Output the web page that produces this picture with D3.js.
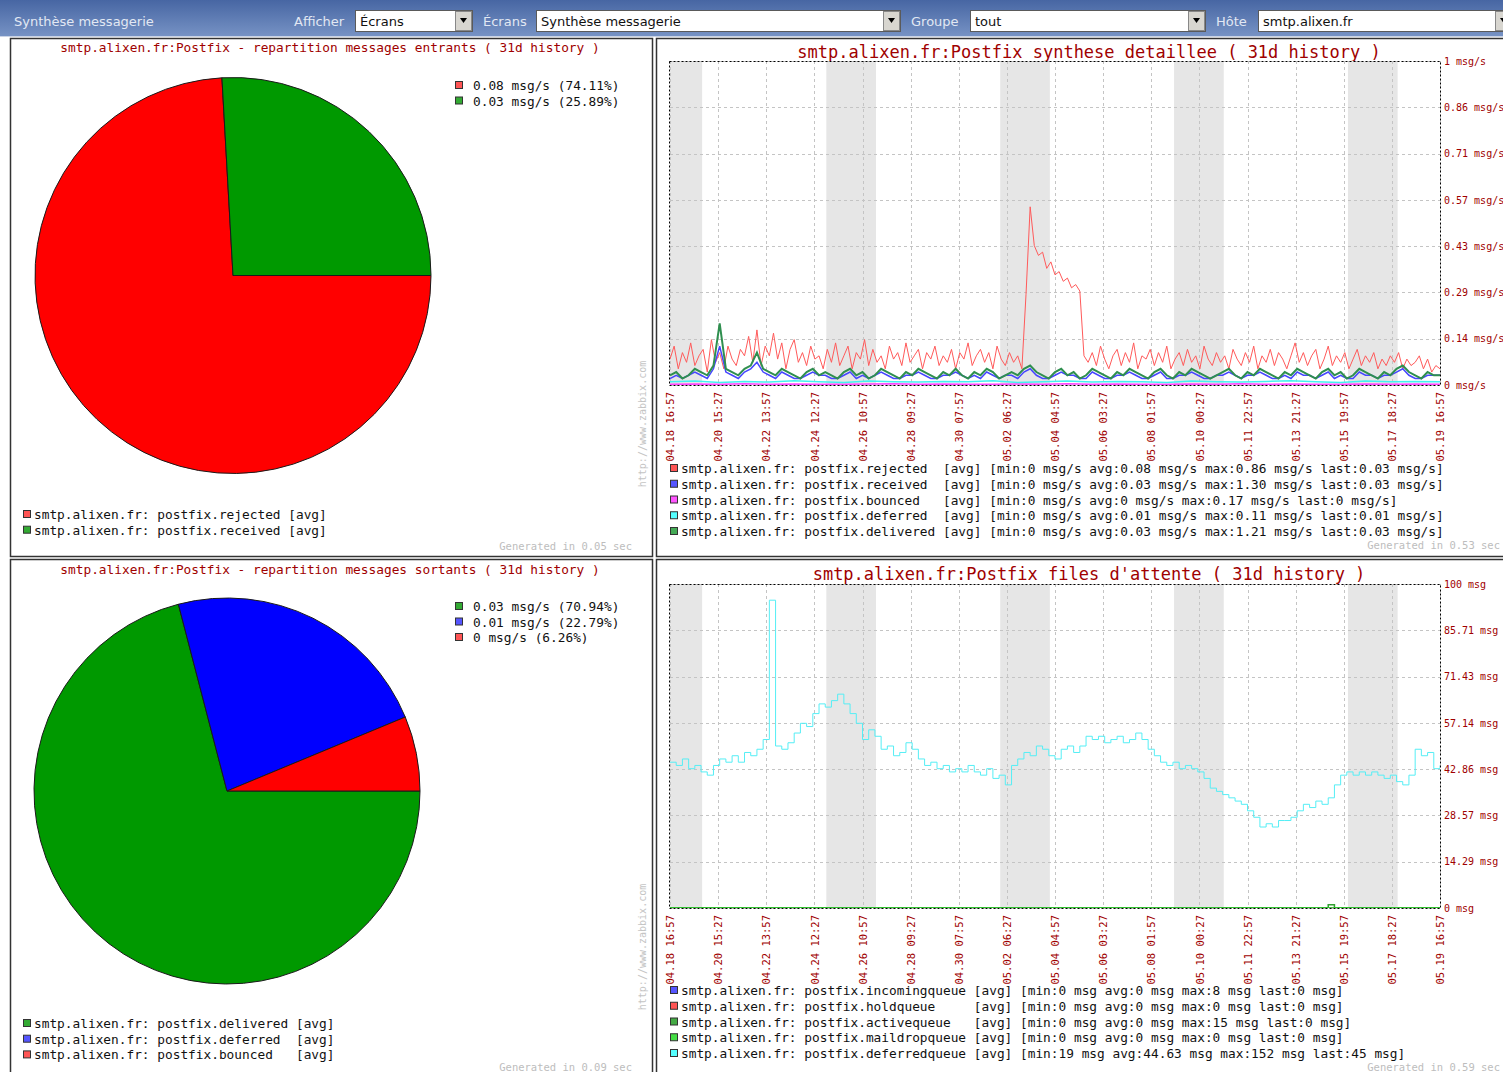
<!DOCTYPE html>
<html>
<head>
<meta charset="utf-8">
<script src="https://cdn.jsdelivr.net/npm/d3@7"></script>
<style>
body { margin: 0; background: #fff; }
svg { display: block; }
</style>
</head>
<body>
<svg id="page" width="1503" height="1072"></svg>
<script>
// ---- data ----
var host = 'smtp.alixen.fr';

// pies
var pieInNames = ['postfix.rejected', 'postfix.received'];
var pieInRates = ['0.08', '0.03'];
var pieInPercents = [74.11, 25.89];
var pieOutNames = ['postfix.delivered', 'postfix.deferred', 'postfix.bounced'];
var pieOutRates = ['0.03', '0.01', '0'];
var pieOutPercents = [70.94, 22.79, 6.26];

// time axis
var periodStart = '2009-04-18 16:57', periodEnd = '2009-05-19 16:57';
var xTicks = ['2009-04-18 16:57', '2009-04-20 15:27', '2009-04-22 13:57', '2009-04-24 12:27',
  '2009-04-26 10:57', '2009-04-28 09:27', '2009-04-30 07:57', '2009-05-02 06:27',
  '2009-05-04 04:57', '2009-05-06 03:27', '2009-05-08 01:57', '2009-05-10 00:27',
  '2009-05-11 22:57', '2009-05-13 21:27', '2009-05-15 19:57', '2009-05-17 18:27',
  '2009-05-19 16:57'];
var weekends = [['2009-04-18 16:57', '2009-04-20 00:00'], ['2009-04-25 00:00', '2009-04-27 00:00'],
  ['2009-05-02 00:00', '2009-05-04 00:00'], ['2009-05-09 00:00', '2009-05-11 00:00'],
  ['2009-05-16 00:00', '2009-05-18 00:00']];

// synthese detaillee (msg/s)
var rateTicks = [0, 0.1429, 0.2857, 0.4286, 0.5714, 0.7143, 0.8571, 1];
var rateTickLabels = ['0', '0.14', '0.29', '0.43', '0.57', '0.71', '0.86', '1'];
var rateNames = ['postfix.rejected', 'postfix.received', 'postfix.bounced', 'postfix.deferred', 'postfix.delivered'];
var rateMin = ['0', '0', '0', '0', '0'];
var rateAvg = ['0.08', '0.03', '0', '0.01', '0.03'];
var rateMax = ['0.86', '1.30', '0.17', '0.11', '1.21'];
var rateLast = ['0.03', '0.03', '0', '0.01', '0.03'];

var rejected = [
  0.08,0.12,0.05,0.10,0.07,0.13,0.06,0.09,0.11,0.04,
  0.14,0.07,0.10,0.05,0.12,0.08,0.06,0.11,0.09,0.15,
  0.07,0.17,0.06,0.12,0.09,0.16,0.08,0.13,0.05,0.11,
  0.14,0.07,0.10,0.06,0.12,0.08,0.09,0.05,0.11,0.07,
  0.13,0.06,0.09,0.12,0.05,0.10,0.08,0.14,0.06,0.11,
  0.07,0.09,0.05,0.12,0.08,0.10,0.06,0.13,0.07,0.09,
  0.11,0.05,0.10,0.08,0.12,0.06,0.09,0.07,0.11,0.05,
  0.10,0.08,0.13,0.06,0.09,0.11,0.07,0.10,0.05,0.12,
  0.08,0.06,0.10,0.07,0.09,0.05,0.28,0.55,0.43,0.40,
  0.41,0.36,0.38,0.34,0.35,0.32,0.33,0.30,0.31,0.29,
  0.09,0.07,0.10,0.06,0.12,0.08,0.05,0.09,0.11,0.06,
  0.10,0.07,0.13,0.05,0.09,0.08,0.11,0.06,0.10,0.07,
  0.12,0.05,0.08,0.10,0.06,0.11,0.07,0.09,0.05,0.12,
  0.08,0.06,0.10,0.07,0.09,0.05,0.11,0.08,0.06,0.10,
  0.07,0.12,0.05,0.09,0.07,0.11,0.06,0.10,0.08,0.05,
  0.09,0.13,0.07,0.10,0.06,0.09,0.11,0.05,0.08,0.12,
  0.06,0.09,0.07,0.10,0.05,0.08,0.11,0.06,0.09,0.07,
  0.10,0.05,0.08,0.06,0.09,0.07,0.10,0.05,0.08,0.06,
  0.07,0.09,0.05,0.08,0.04,0.06,0.05];
var received = [
  0.02,0.03,0.02,0.03,0.04,0.03,0.02,0.05,0.12,0.04,
  0.03,0.02,0.04,0.05,0.07,0.04,0.03,0.02,0.04,0.03,
  0.02,0.02,0.03,0.04,0.03,0.03,0.02,0.02,0.03,0.04,
  0.02,0.03,0.02,0.03,0.04,0.03,0.02,0.02,0.03,0.03,
  0.04,0.03,0.02,0.02,0.03,0.03,0.04,0.03,0.02,0.03,
  0.02,0.04,0.03,0.02,0.03,0.03,0.02,0.04,0.05,0.03,
  0.02,0.02,0.03,0.04,0.03,0.03,0.02,0.02,0.04,0.03,
  0.02,0.02,0.03,0.03,0.04,0.03,0.02,0.02,0.03,0.04,
  0.02,0.02,0.03,0.03,0.04,0.03,0.02,0.02,0.03,0.03,
  0.04,0.03,0.02,0.03,0.03,0.04,0.03,0.02,0.02,0.03,
  0.02,0.04,0.03,0.03,0.02,0.03,0.04,0.02,0.03,0.02,
  0.02,0.04,0.03,0.03,0.02,0.03,0.03,0.04,0.05,0.03,
  0.02,0.02,0.03,0.03,0.03];
var bounced = [0.002,0.003,0.002,0.004,0.002,0.003,0.002,0.002,0.003,0.004,0.002,0.003,0.002,0.002,0.003,0.002,
  0.004,0.002,0.003,0.002,0.002,0.003,0.002,0.004,0.002,0.003,0.002,0.002,0.003,0.002,0.003,0.002];
var deferred = [0.010,0.012,0.008,0.011,0.009,0.013,0.010,0.008,0.012,0.010,0.009,0.011,0.010,0.013,0.008,0.010,
  0.012,0.009,0.011,0.010,0.008,0.012,0.010,0.009,0.011,0.013,0.010,0.008,0.012,0.010,0.011,0.010];
var delivered = [
  0.03,0.04,0.02,0.03,0.05,0.04,0.03,0.06,0.19,0.05,
  0.04,0.03,0.05,0.06,0.10,0.05,0.04,0.03,0.05,0.04,
  0.03,0.02,0.04,0.05,0.03,0.04,0.03,0.02,0.04,0.05,
  0.03,0.04,0.02,0.03,0.05,0.04,0.03,0.02,0.04,0.03,
  0.05,0.04,0.03,0.02,0.04,0.03,0.05,0.03,0.02,0.04,
  0.03,0.05,0.04,0.02,0.03,0.04,0.03,0.05,0.06,0.04,
  0.03,0.02,0.04,0.05,0.03,0.04,0.02,0.03,0.05,0.04,
  0.03,0.02,0.04,0.03,0.05,0.04,0.03,0.02,0.04,0.05,
  0.03,0.02,0.04,0.03,0.05,0.04,0.03,0.02,0.03,0.04,
  0.05,0.03,0.02,0.04,0.03,0.05,0.04,0.03,0.02,0.04,
  0.03,0.05,0.04,0.03,0.02,0.04,0.05,0.03,0.04,0.02,
  0.03,0.05,0.04,0.03,0.02,0.04,0.03,0.05,0.06,0.04,
  0.03,0.02,0.04,0.03,0.03];

// files d'attente (msg)
var queueTicks = [0, 14.29, 28.57, 42.86, 57.14, 71.43, 85.71, 100];
var queueTickLabels = ['0', '14.29', '28.57', '42.86', '57.14', '71.43', '85.71', '100'];
var queueNames = ['postfix.incomingqueue', 'postfix.holdqueue', 'postfix.activequeue', 'postfix.maildropqueue', 'postfix.deferredqueue'];
var queueMin = ['0', '0', '0', '0', '19'];
var queueAvg = ['0', '0', '0', '0', '44.63'];
var queueMax = ['8', '0', '15', '0', '152'];
var queueLast = ['0', '0', '0', '0', '45'];

var incomingQueue = [0,0,0,0,0,0,0,0,0,0,0,0,0,0,0,0,0,0,0,0,0,0,0,0,0,0,0,0,0,0,0,0];
var holdQueue = [0,0,0,0,0,0,0,0,0,0,0,0,0,0,0,0,0,0,0,0,0,0,0,0,0,0,0,0,0,0,0,0];
var activeQueue = [
  0,0,0,0,0,0,0,0,0,0, 0,0,0,0,0,0,0,0,0,0, 0,0,0,0,0,0,0,0,0,0,
  0,0,0,0,0,0,0,0,0,0, 0,0,0,0,0,0,0,0,0,0, 0,0,0,0,0,0,0,0,0,0,
  0,0,0,0,0,0,0,0,0,0, 0,0,0,0,0,0,0,0,0,0, 0,0,0,0,0,0,0,0,0,0,
  0,0,0,0,0,0,0,0,0,0, 0,0,0,0,0,0,1,0,0,0, 0,0,0,0,0,0,0,0,0,0,
  0,0,0,0,0];
var maildropQueue = [0,0,0,0,0,0,0,0,0,0,0,0,0,0,0,0,0,0,0,0,0,0,0,0,0,0,0,0,0,0,0,0];
var deferredQueue = [
  45,44,46,43,44,42,41,44,46,45,
  47,45,48,47,49,52,95,50,49,51,
  54,57,56,60,63,62,64,66,63,60,
  57,52,55,53,49,50,47,48,51,49,
  46,44,45,43,44,42,43,42,44,42,
  41,43,40,41,38,44,46,48,47,50,
  49,47,46,49,50,48,50,53,52,53,
  51,52,53,51,52,54,52,49,47,45,
  44,45,43,44,43,42,40,37,36,35,
  34,33,32,30,28,25,26,25,27,27,
  28,30,32,31,33,32,34,38,41,42,
  41,42,41,42,41,40,41,39,38,41,
  49,47,48,43,44];

// ---- drawing ----
var svg = d3.select('#page');
var mono = '"DejaVu Sans Mono", monospace';
var sans = '"DejaVu Sans", sans-serif';
var darkRed = '#a00000';
var parse = d3.timeParse('%Y-%m-%d %H:%M');
var fmtDay = d3.timeFormat('%m.%d'), fmtHour = d3.timeFormat('%H:%M');
var t0 = parse(periodStart), t1 = parse(periodEnd);

function timeAt(i, n) {
  return new Date(+t0 + (t1 - t0) * i / (n - 1));
}

// top bar
var defs = svg.append('defs');
var grad = defs.append('linearGradient').attr('id', 'barGrad')
  .attr('x1', 0).attr('y1', 0).attr('x2', 0).attr('y2', 1);
grad.append('stop').attr('offset', '0%').attr('stop-color', '#4766a3');
grad.append('stop').attr('offset', '100%').attr('stop-color', '#7692c4');
svg.append('rect').attr('x', 0).attr('y', 0).attr('width', 1503).attr('height', 36).attr('fill', 'url(#barGrad)');
svg.append('line').attr('x1', 0).attr('x2', 1503).attr('y1', 36.5).attr('y2', 36.5).attr('stroke', '#c9d3e6');
svg.append('text').attr('x', 14).attr('y', 26).text('Synthèse messagerie')
  .attr('font-family', sans).attr('font-size', 13).attr('fill', '#e2e8f3');

var controls = [
  {label: 'Afficher', lx: 294, bx: 355, bw: 117, value: 'Écrans'},
  {label: 'Écrans', lx: 483, bx: 536, bw: 364, value: 'Synthèse messagerie'},
  {label: 'Groupe', lx: 911, bx: 970, bw: 235, value: 'tout'},
  {label: 'Hôte', lx: 1216, bx: 1258, bw: 254, value: 'smtp.alixen.fr'}
];
controls.forEach(function (c) {
  svg.append('text').attr('x', c.lx).attr('y', 26).text(c.label)
    .attr('font-family', sans).attr('font-size', 13).attr('fill', '#e2e8f3');
  svg.append('rect').attr('x', c.bx + 0.5).attr('y', 10.5).attr('width', c.bw).attr('height', 21)
    .attr('fill', '#fff').attr('stroke', '#5a5a5a');
  svg.append('text').attr('x', c.bx + 5).attr('y', 26).text(c.value)
    .attr('font-family', sans).attr('font-size', 13).attr('fill', '#111');
  var ax = c.bx + c.bw - 17;
  svg.append('rect').attr('x', ax + 0.5).attr('y', 11.5).attr('width', 16).attr('height', 19)
    .attr('fill', '#d8d6d0').attr('stroke', '#888');
  svg.append('path').attr('d', 'M' + (ax + 5) + ',18 L' + (ax + 12) + ',18 L' + (ax + 8.5) + ',23 Z').attr('fill', '#000');
});

// panels
[[10.5, 38.5, 642, 518], [656.5, 38.5, 860, 518], [10.5, 559.5, 642, 520], [656.5, 559.5, 860, 520]].forEach(function (p) {
  svg.append('rect').attr('x', p[0]).attr('y', p[1]).attr('width', p[2]).attr('height', p[3])
    .attr('fill', 'none').attr('stroke', '#333').attr('stroke-width', 1.5);
});

function legendRow(x, y, color, label) {
  svg.append('rect').attr('x', x + 0.5).attr('y', y - 8.5).attr('width', 7).attr('height', 7)
    .attr('fill', color).attr('stroke', '#333');
  svg.append('text').attr('x', x + 11).attr('y', y).text(label)
    .attr('xml:space', 'preserve').style('white-space', 'pre')
    .attr('font-family', mono).attr('font-size', 12.8).attr('fill', '#111');
}

function generated(xEnd, y, txt) {
  svg.append('text').attr('x', xEnd).attr('y', y).attr('text-anchor', 'end').text(txt)
    .attr('font-family', mono).attr('font-size', 10.5).attr('fill', '#bdbdbd');
}

function drawPie(o) {
  svg.append('text').attr('x', 330).attr('y', o.titleY).attr('text-anchor', 'middle').text(o.title)
    .attr('font-family', mono).attr('font-size', 12.8).attr('fill', darkRed);
  var pie = d3.pie().sort(null).startAngle(Math.PI / 2).endAngle(Math.PI / 2 + 2 * Math.PI);
  var arc = d3.arc().innerRadius(0).outerRadius(o.r);
  svg.append('g').attr('transform', 'translate(' + o.cx + ',' + o.cy + ')')
    .selectAll('path').data(pie(o.percents)).enter().append('path')
    .attr('d', arc).attr('fill', function (d, i) { return o.fills[i]; })
    .attr('stroke', '#1a1a1a').attr('stroke-width', 1);
  o.percents.forEach(function (p, i) {
    svg.append('rect').attr('x', 455.5).attr('y', o.valY + i * 15.5 - 8.5).attr('width', 7).attr('height', 7)
      .attr('fill', o.keys[i]).attr('stroke', '#333');
    svg.append('text').attr('x', 473).attr('y', o.valY + i * 15.5)
      .text(o.rates[i] + ' msg/s (' + d3.format('.2f')(p) + '%)')
      .attr('font-family', mono).attr('font-size', 12.8).attr('fill', '#111');
  });
  var w = d3.max(o.names, function (n) { return n.length; });
  o.names.forEach(function (n, i) {
    legendRow(23, o.legY + i * 15.7, o.keys[i], host + ': ' + n + ' '.repeat(w - n.length) + ' [avg]');
  });
  generated(632, o.genY, o.gen);
}

drawPie({title: host + ':Postfix - repartition messages entrants ( 31d history )', titleY: 52,
  cx: 233, cy: 275.5, r: 198, percents: pieInPercents, rates: pieInRates, names: pieInNames,
  fills: ['#ff0000', '#009900'], keys: ['#ff5555', '#33aa33'], valY: 90, legY: 519,
  genY: 550, gen: 'Generated in 0.05 sec'});
drawPie({title: host + ':Postfix - repartition messages sortants ( 31d history )', titleY: 574,
  cx: 227, cy: 791, r: 193, percents: pieOutPercents, rates: pieOutRates, names: pieOutNames,
  fills: ['#009900', '#0000ff', '#ff0000'], keys: ['#33aa33', '#5555ff', '#ff5555'], valY: 611, legY: 1028,
  genY: 1071, gen: 'Generated in 0.09 sec'});

function drawTimeChart(o) {
  var x = d3.scaleTime().domain([t0, t1]).range([670, 1440]);
  var y = d3.scaleLinear().domain([0, o.yMax]).range([o.bottom, o.top]);
  var clipId = 'clip' + o.top;
  defs.append('clipPath').attr('id', clipId).append('rect')
    .attr('x', 670).attr('y', o.top).attr('width', 770).attr('height', o.bottom - o.top);

  svg.append('text').attr('x', 1089).attr('y', o.titleY).attr('text-anchor', 'middle').text(o.title)
    .attr('font-family', mono).attr('font-size', 17).attr('fill', darkRed);

  svg.append('g').selectAll('rect').data(weekends).enter().append('rect')
    .attr('x', function (d) { return x(parse(d[0])); })
    .attr('width', function (d) { return x(parse(d[1])) - x(parse(d[0])); })
    .attr('y', o.top).attr('height', o.bottom - o.top).attr('fill', '#e6e6e6');

  var grid = svg.append('g').attr('stroke', '#c4c4c4').attr('stroke-dasharray', '3,3');
  grid.selectAll('.v').data(xTicks).enter().append('line')
    .attr('x1', function (d) { return Math.round(x(parse(d))) + 0.5; })
    .attr('x2', function (d) { return Math.round(x(parse(d))) + 0.5; })
    .attr('y1', o.top).attr('y2', o.bottom);
  grid.selectAll('.h').data(o.yTicks).enter().append('line')
    .attr('x1', 670).attr('x2', 1440)
    .attr('y1', function (d) { return Math.round(y(d)) + 0.5; })
    .attr('y2', function (d) { return Math.round(y(d)) + 0.5; });

  var plot = svg.append('g').attr('clip-path', 'url(#' + clipId + ')');
  o.series.forEach(function (s) {
    var line = d3.line()
      .x(function (d, i) { return x(timeAt(i, s.values.length)); })
      .y(function (d) { return y(d); })
      .curve(s.step ? d3.curveStepAfter : d3.curveLinear);
    plot.append('path').datum(s.values).attr('d', line)
      .attr('fill', 'none').attr('stroke', s.color).attr('stroke-width', s.width || 1);
  });

  svg.append('rect').attr('x', 669.5).attr('y', o.top + 0.5).attr('width', 771).attr('height', o.bottom - o.top)
    .attr('fill', 'none').attr('stroke', '#000').attr('stroke-dasharray', '2,2');

  var yAxis = d3.axisRight(y).tickValues(o.yTicks).tickSize(0).tickPadding(4)
    .tickFormat(function (d, i) { return o.yLabels[i] + ' ' + o.unit; });
  var gy = svg.append('g').attr('transform', 'translate(1440,0)').call(yAxis);
  gy.select('.domain').remove();
  gy.selectAll('text').attr('fill', darkRed).attr('font-family', mono).attr('font-size', 10);

  var xAxis = d3.axisBottom(x).tickValues(xTicks.map(parse)).tickSize(0)
    .tickFormat(function (d) { return fmtDay(d) + ' ' + fmtHour(d); });
  var gx = svg.append('g').attr('transform', 'translate(0,' + o.bottom + ')').call(xAxis);
  gx.select('.domain').remove();
  gx.selectAll('text').attr('transform', 'rotate(-90)').attr('text-anchor', 'end')
    .attr('x', -7).attr('y', 0).attr('dy', '0.35em')
    .attr('fill', darkRed).attr('font-family', mono).attr('font-size', 10.5);

  var w = d3.max(o.names, function (n) { return n.length; });
  o.names.forEach(function (n, i) {
    var u = ' ' + o.unit;
    legendRow(670, o.legY + i * 15.75, o.keys[i], host + ': ' + n + ' '.repeat(w - n.length) +
      ' [avg] [min:' + o.min[i] + u + ' avg:' + o.avg[i] + u + ' max:' + o.max[i] + u + ' last:' + o.last[i] + u + ']');
  });
  generated(1500, o.genY, o.gen);

  svg.append('text').attr('transform', 'translate(646,' + o.zy + ') rotate(-90)').attr('text-anchor', 'middle')
    .text('http://www.zabbix.com').attr('font-family', mono).attr('font-size', 10).attr('fill', '#c4c4c4');
}

drawTimeChart({title: host + ':Postfix synthese detaillee ( 31d history )', titleY: 58,
  top: 61, bottom: 385, yMax: 1, yTicks: rateTicks, yLabels: rateTickLabels, unit: 'msg/s',
  series: [
    {values: rejected, color: '#ff5a5a'},
    {values: received, color: '#4646ff', width: 1.5},
    {values: bounced, color: '#ff44ff', width: 1.5},
    {values: deferred, color: '#44f0f0', width: 1.5},
    {values: delivered, color: '#2f8f4f', width: 2}
  ],
  names: rateNames, min: rateMin, avg: rateAvg, max: rateMax, last: rateLast,
  keys: ['#ff5555', '#5555ff', '#ff55ff', '#55ffff', '#44aa55'],
  legY: 473, genY: 549, gen: 'Generated in 0.53 sec', zy: 424});

drawTimeChart({title: host + ":Postfix files d'attente ( 31d history )", titleY: 580,
  top: 584, bottom: 908, yMax: 100, yTicks: queueTicks, yLabels: queueTickLabels, unit: 'msg',
  series: [
    {values: incomingQueue, color: '#4646ff', step: true},
    {values: holdQueue, color: '#ff5a5a', step: true},
    {values: activeQueue, color: '#2f9f2f', width: 1.5, step: true},
    {values: maildropQueue, color: '#22cc22', width: 1.5, step: true},
    {values: deferredQueue, color: '#55eef5', step: true}
  ],
  names: queueNames, min: queueMin, avg: queueAvg, max: queueMax, last: queueLast,
  keys: ['#5555ff', '#ff5555', '#44aa44', '#44dd44', '#55ffff'],
  legY: 995, genY: 1071, gen: 'Generated in 0.59 sec', zy: 947});
</script>
</body>
</html>
